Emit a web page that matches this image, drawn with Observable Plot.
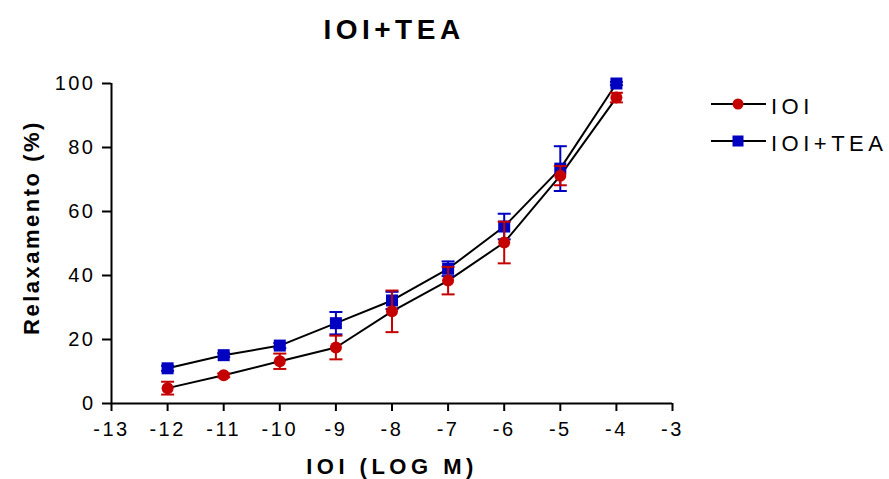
<!DOCTYPE html>
<html>
<head>
<meta charset="utf-8">
<script src="https://cdn.jsdelivr.net/npm/d3@7"></script>
<script src="https://cdn.jsdelivr.net/npm/@observablehq/plot@0.6"></script>
<style>
  html, body { margin: 0; padding: 0; background: #fff; }
  #wrap { position: relative; width: 889px; height: 479px; font-family: "Liberation Sans", Arial, sans-serif; }
  #wrap svg text { font-family: "Liberation Sans", Arial, sans-serif; }
  g[aria-label="x-axis tick label"] text, g[aria-label="y-axis tick label"] text { letter-spacing: 2.5px; }
  #legend { position: absolute; left: 0; top: 0; }
  #legend text { letter-spacing: 4.5px; }
</style>
</head>
<body>
<div id="wrap"></div>
<script>
// ---- data ----
const doses = [-12, -11, -10, -9, -8, -7, -6, -5, -4];
const ioiMean = [4.8, 8.8, 13.2, 17.5, 28.8, 38.4, 50.3, 71.2, 95.6];
const ioiSem  = [2.0, 0.6, 2.4, 3.7, 6.5, 4.3, 6.5, 3.0, 1.5];
const teaMean = [11.0, 15.1, 18.1, 25.1, 32.2, 42.1, 55.3, 73.4, 100.0];
const teaSem  = [0.8, 0.6, 0.8, 3.5, 2.7, 2.3, 4.0, 7.0, 0.5];
const seriesNames = ["IOI", "IOI+TEA"];
const seriesColors = ["#c40000", "#0000c0"];
const xTicks = [-13, -12, -11, -10, -9, -8, -7, -6, -5, -4, -3];
const yTicks = [0, 20, 40, 60, 80, 100];
const xDomain = [-13, -3];
const yDomain = [0, 100];
const titleText = "IOI+TEA";
const xLabel = "IOI (LOG M)";
const yLabel = "Relaxamento (%)";

const ioi = doses.map((d, i) => ({dose: d, mean: ioiMean[i], sem: ioiSem[i], series: seriesNames[0]}));
const tea = doses.map((d, i) => ({dose: d, mean: teaMean[i], sem: teaSem[i], series: seriesNames[1]}));
const all = ioi.concat(tea);

const capSymbol = { draw(ctx) { ctx.moveTo(-6.5, 0); ctx.lineTo(6.5, 0); } };

function errMarks(data, color) {
  return [
    Plot.ruleX(data, {x: "dose", y1: d => d.mean - d.sem, y2: d => d.mean + d.sem, stroke: color, strokeWidth: 2}),
    Plot.dot(data, {x: "dose", y: d => d.mean + d.sem, symbol: capSymbol, stroke: color, fill: "none", strokeWidth: 2}),
    Plot.dot(data, {x: "dose", y: d => d.mean - d.sem, symbol: capSymbol, stroke: color, fill: "none", strokeWidth: 2})
  ];
}

const chart = Plot.plot({
  width: 889,
  height: 479,
  marginLeft: 111,
  marginRight: 217,
  marginTop: 83,
  marginBottom: 76,
  style: {color: "#000", background: "#fff", fontFamily: "'Liberation Sans', Arial, sans-serif"},
  x: {domain: xDomain},
  y: {domain: yDomain},
  marks: [
    Plot.axisX({ticks: xTicks, tickSize: 8, tickPadding: 10, fontSize: 20, strokeWidth: 2, tickFormat: d => String(d), label: null}),
    Plot.axisY({ticks: yTicks, tickSize: 9, tickPadding: 7, fontSize: 20, strokeWidth: 2, tickFormat: d => String(d), label: null}),
    Plot.ruleY([yDomain[0]], {stroke: "#000", strokeWidth: 2}),
    Plot.ruleX([xDomain[0]], {stroke: "#000", strokeWidth: 2}),
    Plot.line(all, {x: "dose", y: "mean", z: "series", stroke: "#000", strokeWidth: 2}),
    ...errMarks(tea, seriesColors[1]),
    Plot.dot(tea, {x: "dose", y: "mean", symbol: "square", r: 6.77, fill: seriesColors[1], stroke: "none"}),
    ...errMarks(ioi, seriesColors[0]),
    Plot.dot(ioi, {x: "dose", y: "mean", symbol: "circle", r: 6, fill: seriesColors[0], stroke: "none"}),
    Plot.text([titleText], {frameAnchor: "top", textAnchor: "middle", lineAnchor: "middle", text: d => d, dy: -53, dx: 2, fontSize: 28, fontWeight: "bold", fill: "#000"}),
    Plot.text([xLabel], {frameAnchor: "bottom", textAnchor: "middle", lineAnchor: "middle", text: d => d, dy: 63, dx: 0, fontSize: 22, fontWeight: "bold", fill: "#000"}),
    Plot.text([yLabel], {frameAnchor: "left", textAnchor: "middle", lineAnchor: "middle", text: d => d, rotate: -90, dx: -80, dy: -16, fontSize: 22, fontWeight: "bold", fill: "#000"})
  ]
});
document.getElementById("wrap").appendChild(chart);

// letter spacing for title and axis labels
const spacing = new Map([[titleText, "4.5px"], [xLabel, "4.5px"], [yLabel, "2.5px"]]);
d3.select(chart).selectAll("text")
  .filter(function () { return spacing.has(this.textContent) && !this.closest('g[aria-label$="tick label"]'); })
  .style("letter-spacing", function () { return spacing.get(this.textContent); });

// ---- legend ----
const legend = d3.select("#wrap").append("svg")
  .attr("id", "legend").attr("width", 889).attr("height", 479)
  .style("pointer-events", "none");
const rows = [
  {name: seriesNames[0], color: seriesColors[0], shape: "circle", y: 104},
  {name: seriesNames[1], color: seriesColors[1], shape: "square", y: 141}
];
const g = legend.selectAll("g").data(rows).join("g").attr("transform", d => `translate(0,${d.y})`);
g.append("line").attr("x1", 711).attr("x2", 766).attr("y1", 0).attr("y2", 0).attr("stroke", "#000").attr("stroke-width", 2);
g.filter(d => d.shape === "circle").append("circle").attr("cx", 738).attr("cy", 0).attr("r", 5.5).attr("fill", d => d.color);
g.filter(d => d.shape === "square").append("rect").attr("x", 732.5).attr("y", -5.5).attr("width", 11).attr("height", 11).attr("fill", d => d.color);
g.append("text").attr("x", 771).attr("y", 9.5).attr("font-size", 22).attr("fill", "#000").text(d => d.name);
</script>
</body>
</html>
